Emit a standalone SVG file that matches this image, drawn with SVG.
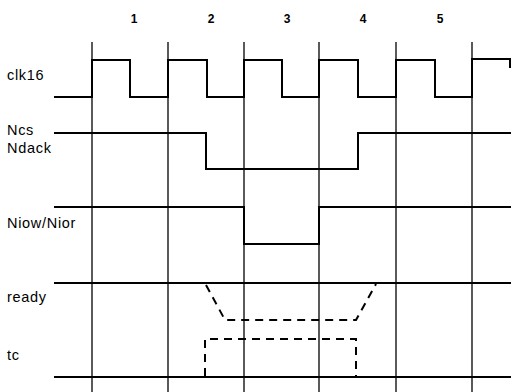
<svg xmlns="http://www.w3.org/2000/svg" width="512" height="392" viewBox="0 0 512 392">
<defs>
<style>
.grid{stroke:#000;stroke-width:1.3;fill:none}
.sig{stroke:#000;stroke-width:2;fill:none}
.dash{stroke:#000;stroke-width:2;fill:none;stroke-dasharray:8,6}
.num{font-family:"Liberation Sans",Arial,sans-serif;font-size:12px;font-weight:bold;text-anchor:middle}
.lbl{font-family:"Liberation Sans",Arial,sans-serif;font-size:14.5px;letter-spacing:0.7px}
</style>
</defs>
<rect width="512" height="392" fill="#fff"/>
<g id="grid">
<line class="grid" x1="92" y1="42" x2="92" y2="392"/>
<line class="grid" x1="168" y1="42" x2="168" y2="392"/>
<line class="grid" x1="244" y1="42" x2="244" y2="392"/>
<line class="grid" x1="319" y1="42" x2="319" y2="392"/>
<line class="grid" x1="396" y1="42" x2="396" y2="392"/>
<line class="grid" x1="472" y1="42" x2="472" y2="392"/>
</g>
<g id="cycle-numbers">
<text class="num" x="134" y="23">1</text>
<text class="num" x="211" y="23">2</text>
<text class="num" x="287" y="23">3</text>
<text class="num" x="363" y="23">4</text>
<text class="num" x="440" y="23">5</text>
</g>
<g id="clk16">
<text class="lbl" x="7" y="80">clk16</text>
<polyline class="sig" points="54,97 92,97 92,60 130,60 130,97 168,97 168,60 207,60 207,97 244,97 244,60 282,60 282,97 319,97 319,60 358,60 358,97 396,97 396,60 435,60 435,97 472,97 472,59 510,59 510,68"/>
</g>
<g id="ncs-ndack">
<text class="lbl" x="7" y="135">Ncs</text>
<text class="lbl" x="7" y="153">Ndack</text>
<polyline class="sig" points="54,133 206,133 206,169 358,169 358,133 511,133"/>
</g>
<g id="niow-nior">
<text class="lbl" x="7" y="228">Niow/Nior</text>
<polyline class="sig" points="54,207 244,207 244,244 319,244 319,207 511,207"/>
</g>
<g id="ready">
<text class="lbl" x="7" y="302">ready</text>
<line class="sig" x1="54" y1="283" x2="511" y2="283"/>
<polyline class="dash" points="206,285 225,320 356,320 376,284"/>
</g>
<g id="tc">
<text class="lbl" x="7" y="360">tc</text>
<line class="sig" x1="54" y1="377" x2="511" y2="377"/>
<polyline class="dash" points="205,376 205,339 356,339 356,376"/>
</g>
</svg>
